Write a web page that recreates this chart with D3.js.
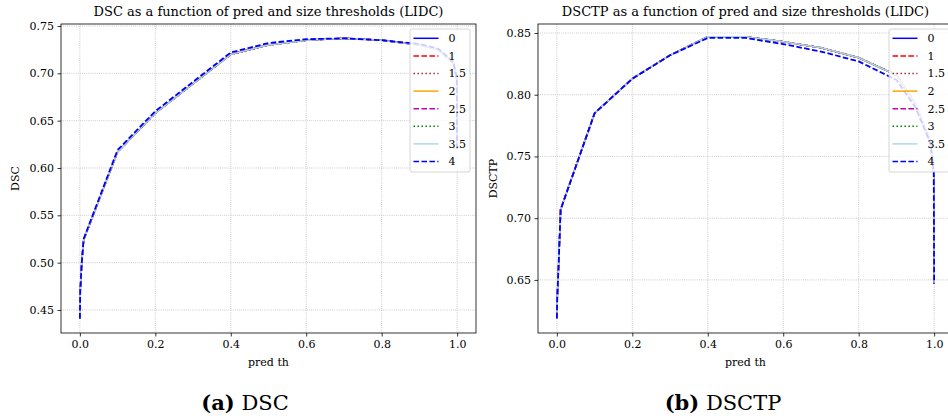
<!DOCTYPE html>
<html>
<head>
<meta charset="utf-8">
<script src="https://cdn.jsdelivr.net/npm/d3@7"></script>
<style>
  body { margin: 0; background: #fff; }
  svg { display: block; }
  text { font-family: "DejaVu Serif", serif; fill: #000; }
</style>
</head>
<body>
<div id="chart"></div>
<script>
// pred threshold values (x axis)
const predTh = [0, 0.001, 0.005, 0.01, 0.1, 0.2, 0.3, 0.4, 0.5, 0.6, 0.7, 0.8, 0.9, 0.95, 0.99, 0.999, 1.0];

// size thresholds (legend)
const sizeTh = ["0", "1", "1.5", "2", "2.5", "3", "3.5", "4"];

// DSC; size th 4 sits slightly above the rest
const dscTop   = [0.441, 0.470, 0.500, 0.525, 0.619, 0.660, 0.691, 0.722, 0.732, 0.736, 0.737, 0.735, 0.731, 0.726, 0.712, 0.695, 0.620];
const dscOther = [0.441, 0.470, 0.500, 0.524, 0.617, 0.658, 0.689, 0.720, 0.730, 0.735, 0.737, 0.735, 0.730, 0.725, 0.711, 0.694, 0.620];

// DSCTP; size th 4 sits slightly below the rest
const dsctpLow   = [0.619, 0.635, 0.665, 0.707, 0.785, 0.813, 0.832, 0.846, 0.846, 0.841, 0.835, 0.827, 0.812, 0.790, 0.761, 0.737, 0.647];
const dsctpOther = [0.619, 0.635, 0.665, 0.707, 0.785, 0.813, 0.832, 0.847, 0.847, 0.843, 0.838, 0.830, 0.816, 0.793, 0.762, 0.737, 0.647];

const dscSeries   = [dscOther, dscOther, dscOther, dscOther, dscOther, dscOther, dscOther, dscTop];
const dsctpSeries = [dsctpOther, dsctpOther, dsctpOther, dsctpOther, dsctpOther, dsctpOther, dsctpOther, dsctpLow];

const xTicks = [0, 0.2, 0.4, 0.6, 0.8, 1.0];
const dscTicks = [0.45, 0.50, 0.55, 0.60, 0.65, 0.70, 0.75];
const dsctpTicks = [0.65, 0.70, 0.75, 0.80, 0.85];

// line styles per size threshold
const colors = ["#0000ff", "#ff0000", "#a52a2a", "#ffa500", "#bf00bf", "#008000", "#add8e6", "#0000ff"];
const dashes = [null, "5.55,2.4", "1.5,2.475", null, "5.55,2.4", "1.5,2.475", null, "5.55,2.4"];

const W = 948, H = 419;
const svg = d3.select("#chart").append("svg")
    .attr("width", W)
    .attr("height", H);

svg.append("rect").attr("width", W).attr("height", H).attr("fill", "#fff");

function panel(opts) {
    const { left, top, width, height, yDomain, yTicks, series, title, ylabel, ylabelX, legendX } = opts;

    const x = d3.scaleLinear().domain([-0.05, 1.05]).range([left, left + width]);
    const y = d3.scaleLinear().domain(yDomain).range([top + height, top]);

    const g = svg.append("g");

    // grid
    g.append("g")
        .selectAll("line")
        .data(xTicks)
        .join("line")
        .attr("x1", d => x(d)).attr("x2", d => x(d))
        .attr("y1", top).attr("y2", top + height)
        .attr("stroke", "#b0b0b0").attr("stroke-width", 0.8)
        .attr("stroke-dasharray", "0.8,1.32");
    g.append("g")
        .selectAll("line")
        .data(yTicks)
        .join("line")
        .attr("x1", left).attr("x2", left + width)
        .attr("y1", d => y(d)).attr("y2", d => y(d))
        .attr("stroke", "#b0b0b0").attr("stroke-width", 0.8)
        .attr("stroke-dasharray", "0.8,1.32");

    // lines
    const line = d3.line()
        .x((d, i) => x(predTh[i]))
        .y(d => y(d));

    g.append("g")
        .selectAll("path")
        .data(series)
        .join("path")
        .attr("d", d => line(d))
        .attr("fill", "none")
        .attr("stroke", (d, i) => colors[i])
        .attr("stroke-width", (d, i) => i === 7 ? 1.8 : 1.5)
        .attr("stroke-dasharray", (d, i) => dashes[i]);

    // axes
    const xAxis = g.append("g")
        .attr("transform", `translate(0,${top + height})`)
        .call(d3.axisBottom(x).tickValues(xTicks).tickFormat(d3.format(".1f")).tickSizeOuter(0).tickSize(3.5).tickPadding(3.5));
    const yAxis = g.append("g")
        .attr("transform", `translate(${left},0)`)
        .call(d3.axisLeft(y).tickValues(yTicks).tickFormat(d3.format(".2f")).tickSizeOuter(0).tickSize(3.5).tickPadding(3.5));
    [xAxis, yAxis].forEach(a => {
        a.select(".domain").remove();
        a.selectAll(".tick line").attr("stroke", "#000").attr("stroke-width", 0.8);
        a.selectAll(".tick text").attr("font-size", "11px").attr("font-family", "DejaVu Serif");
    });

    // frame
    g.append("rect")
        .attr("x", left).attr("y", top)
        .attr("width", width).attr("height", height)
        .attr("fill", "none").attr("stroke", "#000").attr("stroke-width", 0.8);

    // labels
    g.append("text")
        .attr("x", left + width / 2).attr("y", top - 8)
        .attr("text-anchor", "middle")
        .attr("font-size", "13px")
        .text(title);
    g.append("text")
        .attr("x", left + width / 2).attr("y", top + height + 33)
        .attr("text-anchor", "middle")
        .attr("font-size", "11px")
        .text("pred th");
    g.append("text")
        .attr("transform", `translate(${ylabelX},${top + height / 2}) rotate(-90)`)
        .attr("text-anchor", "middle")
        .attr("dy", "0.35em")
        .attr("font-size", "11px")
        .text(ylabel);

    // legend
    const lg = g.append("g").attr("transform", `translate(${legendX},${top + 5})`);
    lg.append("rect")
        .attr("width", 60).attr("height", 143)
        .attr("rx", 2)
        .attr("fill", "#fff").attr("fill-opacity", 0.8)
        .attr("stroke", "#ccc").attr("stroke-width", 0.8);
    const item = lg.selectAll("g.item")
        .data(sizeTh)
        .join("g")
        .attr("transform", (d, i) => `translate(0,${9.3 + i * 17.6})`);
    item.append("line")
        .attr("x1", 3.5).attr("x2", 28.5)
        .attr("stroke", (d, i) => colors[i])
        .attr("stroke-width", 1.5)
        .attr("stroke-dasharray", (d, i) => dashes[i]);
    item.append("text")
        .attr("x", 38.5)
        .attr("dy", "0.35em")
        .attr("font-size", "11px")
        .text(d => d);
}

panel({
    left: 61, top: 24, width: 415, height: 309,
    yDomain: [0.4257, 0.7521], yTicks: dscTicks, series: dscSeries,
    title: "DSC as a function of pred and size thresholds (LIDC)",
    ylabel: "DSC", ylabelX: 15, legendX: 410
});

panel({
    left: 538, top: 24, width: 415, height: 309,
    yDomain: [0.6070, 0.8573], yTicks: dsctpTicks, series: dsctpSeries,
    title: "DSCTP as a function of pred and size thresholds (LIDC)",
    ylabel: "DSCTP", ylabelX: 493, legendX: 889
});

// subfigure captions
const captions = [
    { tag: "(a)", name: "DSC", cx: 245 },
    { tag: "(b)", name: "DSCTP", cx: 723 }
];
captions.forEach(c => {
    const t = svg.append("text")
        .attr("x", c.cx).attr("y", 410)
        .attr("text-anchor", "middle")
        .attr("font-size", "21px");
    t.append("tspan").attr("font-weight", "bold").text(c.tag);
    t.append("tspan").text(" " + c.name);
});
</script>
</body>
</html>
